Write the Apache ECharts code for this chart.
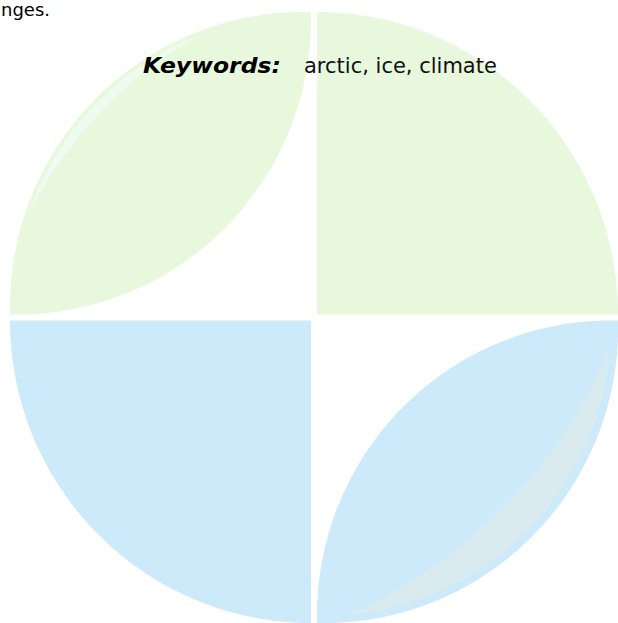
<!DOCTYPE html>
<html>
<head>
<meta charset="utf-8">
<script src="https://cdn.jsdelivr.net/npm/echarts@6/dist/echarts.min.js"></script>
<style>
  html, body { margin: 0; padding: 0; background: #ffffff; }
  #chart { width: 618px; height: 623px; }
</style>
</head>
<body>
<div id="chart"></div>
<script>
// ---- data ----
const quadrantNames = ['top-left', 'top-right', 'bottom-left', 'bottom-right'];
const quadrantSignX = [-1, 1, -1, 1];
const quadrantSignY = [1, 1, -1, -1];
const quadrantShape = ['leaf', 'quarter', 'quarter', 'leaf'];
const quadrantTone = ['green', 'green', 'blue', 'blue'];
const streakQuadrant = [0, 3];
const streakTone = ['paleGreen', 'grey'];
const keywordsLabel = 'Keywords:';
const keywordsText = 'arctic, ice, climate';
const clippedLine = 'nges.';

// ---- styles / layout ----
const toneColor = {
  green: '#e8f8dd',
  blue: '#cdeafa',
  paleGreen: '#f0fbef',
  grey: '#d9ebee'
};
const GAP = 0.01;        // half gap between quadrants (axis units)
const SIDE = 0.99;       // quadrant square side
const QUARTER_R = 0.99;  // quarter disc radius
const SAG = 0.30;        // leaf arc sagitta
const streakGeom = {
  0: { a1: -0.6, a2: 0.55, off: 0.012, w: 0.03 },
  3: { a1: -0.9, a2: 0.88, off: 0.025, w: 0.11 }
};

function leafGeom(sx, sy) {
  const A = [sx * (GAP + SIDE), sy * GAP];
  const B = [sx * GAP, sy * (GAP + SIDE)];
  const M = [(A[0] + B[0]) / 2, (A[1] + B[1]) / 2];
  const dx = B[0] - A[0], dy = B[1] - A[1];
  const L = Math.hypot(dx, dy);
  const e = [dx / L, dy / L];
  const n = [sx / Math.SQRT2, sy / Math.SQRT2];
  const c = L / 2;
  const R = (c * c + SAG * SAG) / (2 * SAG);
  return { A, B, M, e, n, c, R };
}

function arc(M, n, e, c, R, h, u1, u2, rad, steps) {
  const C = [M[0] - n[0] * (R - h), M[1] - n[1] * (R - h)];
  const pts = [];
  for (let k = 0; k <= steps; k++) {
    const u = u1 + (u2 - u1) * k / steps;
    const r = typeof rad === 'function' ? rad(k / steps) : rad;
    pts.push([C[0] + r * (n[0] * Math.cos(u) + e[0] * Math.sin(u)),
              C[1] + r * (n[1] * Math.cos(u) + e[1] * Math.sin(u))]);
  }
  return pts;
}

function renderShape(params, api) {
  const i = api.value(0);
  const sx = quadrantSignX[i], sy = quadrantSignY[i];
  let pts = [];
  if (quadrantShape[i] === 'quarter') {
    const ix = sx * GAP, iy = sy * GAP;
    pts.push([ix, iy]);
    for (let k = 0; k <= 120; k++) {
      const t = k / 120 * Math.PI / 2;
      pts.push([ix + sx * QUARTER_R * Math.cos(t), iy + sy * QUARTER_R * Math.sin(t)]);
    }
  } else {
    const g = leafGeom(sx, sy);
    const phi = Math.asin(g.c / g.R);
    const outer = arc(g.M, g.n, g.e, g.c, g.R, SAG, -phi, phi, g.R, 120);
    const negN = [-g.n[0], -g.n[1]];
    const inner = arc(g.M, negN, g.e, g.c, g.R, SAG, -phi, phi, g.R, 120).reverse();
    pts = outer.concat(inner);
  }
  return {
    type: 'polygon',
    shape: { points: pts.map(p => api.coord(p)) },
    style: { fill: toneColor[quadrantTone[i]] }
  };
}

function renderStreak(params, api) {
  const j = api.value(0);
  const i = streakQuadrant[j];
  const sx = quadrantSignX[i], sy = quadrantSignY[i];
  const g = leafGeom(sx, sy);
  const s = streakGeom[i];
  const u1 = Math.asin(s.a1 * g.c / g.R), u2 = Math.asin(s.a2 * g.c / g.R);
  const rOut = g.R - s.off;
  const outer = arc(g.M, g.n, g.e, g.c, g.R, SAG, u1, u2, rOut, 100);
  const inner = arc(g.M, g.n, g.e, g.c, g.R, SAG, u1, u2,
    t => rOut - s.w * Math.pow(Math.sin(Math.PI * t), 0.8), 100).reverse();
  return {
    type: 'polygon',
    shape: { points: outer.concat(inner).map(p => api.coord(p)) },
    style: { fill: toneColor[streakTone[j]] }
  };
}

const chart = echarts.init(document.getElementById('chart'), null, { renderer: 'svg' });
chart.setOption({
  animation: false,
  backgroundColor: '#ffffff',
  grid: { left: 10, top: 12, width: 616, height: 616 },
  xAxis: { type: 'value', min: -1, max: 1, show: false },
  yAxis: { type: 'value', min: -1, max: 1, show: false },
  series: [
    {
      type: 'custom',
      name: 'quadrants',
      clip: false,
      data: quadrantNames.map((q, i) => ({ name: q, value: [i] })),
      renderItem: renderShape,
      silent: true
    },
    {
      type: 'custom',
      name: 'streaks',
      clip: false,
      data: streakQuadrant.map((q, j) => ({ name: quadrantNames[q], value: [j] })),
      renderItem: renderStreak,
      silent: true
    }
  ],
  graphic: [
    {
      type: 'text', x: 1, y: 0, z: 10,
      style: {
        text: clippedLine, fill: '#000',
        font: '18px "DejaVu Sans"'
      }
    },
    {
      type: 'text', x: 143, y: 55, z: 10, scaleX: 1.12, originX: 0,
      style: {
        text: keywordsLabel, fill: '#000',
        font: 'italic bold 21px "DejaVu Sans"'
      }
    },
    {
      type: 'text', x: 304, y: 55, z: 10,
      style: {
        text: keywordsText, fill: '#111',
        font: '21px "DejaVu Sans"'
      }
    }
  ]
});
</script>
</body>
</html>
